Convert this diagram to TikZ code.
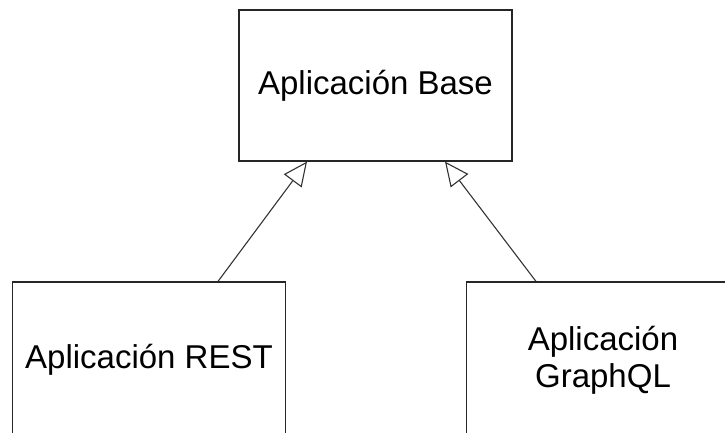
\documentclass[tikz,border=0pt]{standalone}
\usepackage{fontspec}
\setmainfont{Liberation Sans}
\usetikzlibrary{arrows.meta}
\begin{document}
\begin{tikzpicture}[x=1pt,y=-1pt,
  classbox/.style={draw=black!85, line width=1.2pt, minimum width=273pt,
    minimum height=151pt, inner sep=0pt, align=center,
    font=\fontsize{33}{37}\selectfont},
  inherits/.style={draw=black!80, line width=1.1pt,
    -{Triangle[open,length=24pt,width=22pt]}}]
\useasboundingbox (0,0) rectangle (725,433);
\clip (0,0) rectangle (725,433);
% base class and its two specialisations (running off the lower edge)
\node[classbox] (base) at (375.5,85.5) {Aplicación Base};
\node[classbox, minimum height=156pt] (rest) at (149,360) {Aplicación REST};
\node[classbox, minimum height=156pt] (graphql) at (603,360) {Aplicación\\GraphQL};
% generalisation arrows
\draw[inherits] ([xshift=69pt]rest.north) -- ([xshift=-68.5pt]base.south);
\draw[inherits] ([xshift=-67pt]graphql.north) -- ([xshift=69.5pt]base.south);
\end{tikzpicture}
\end{document}
